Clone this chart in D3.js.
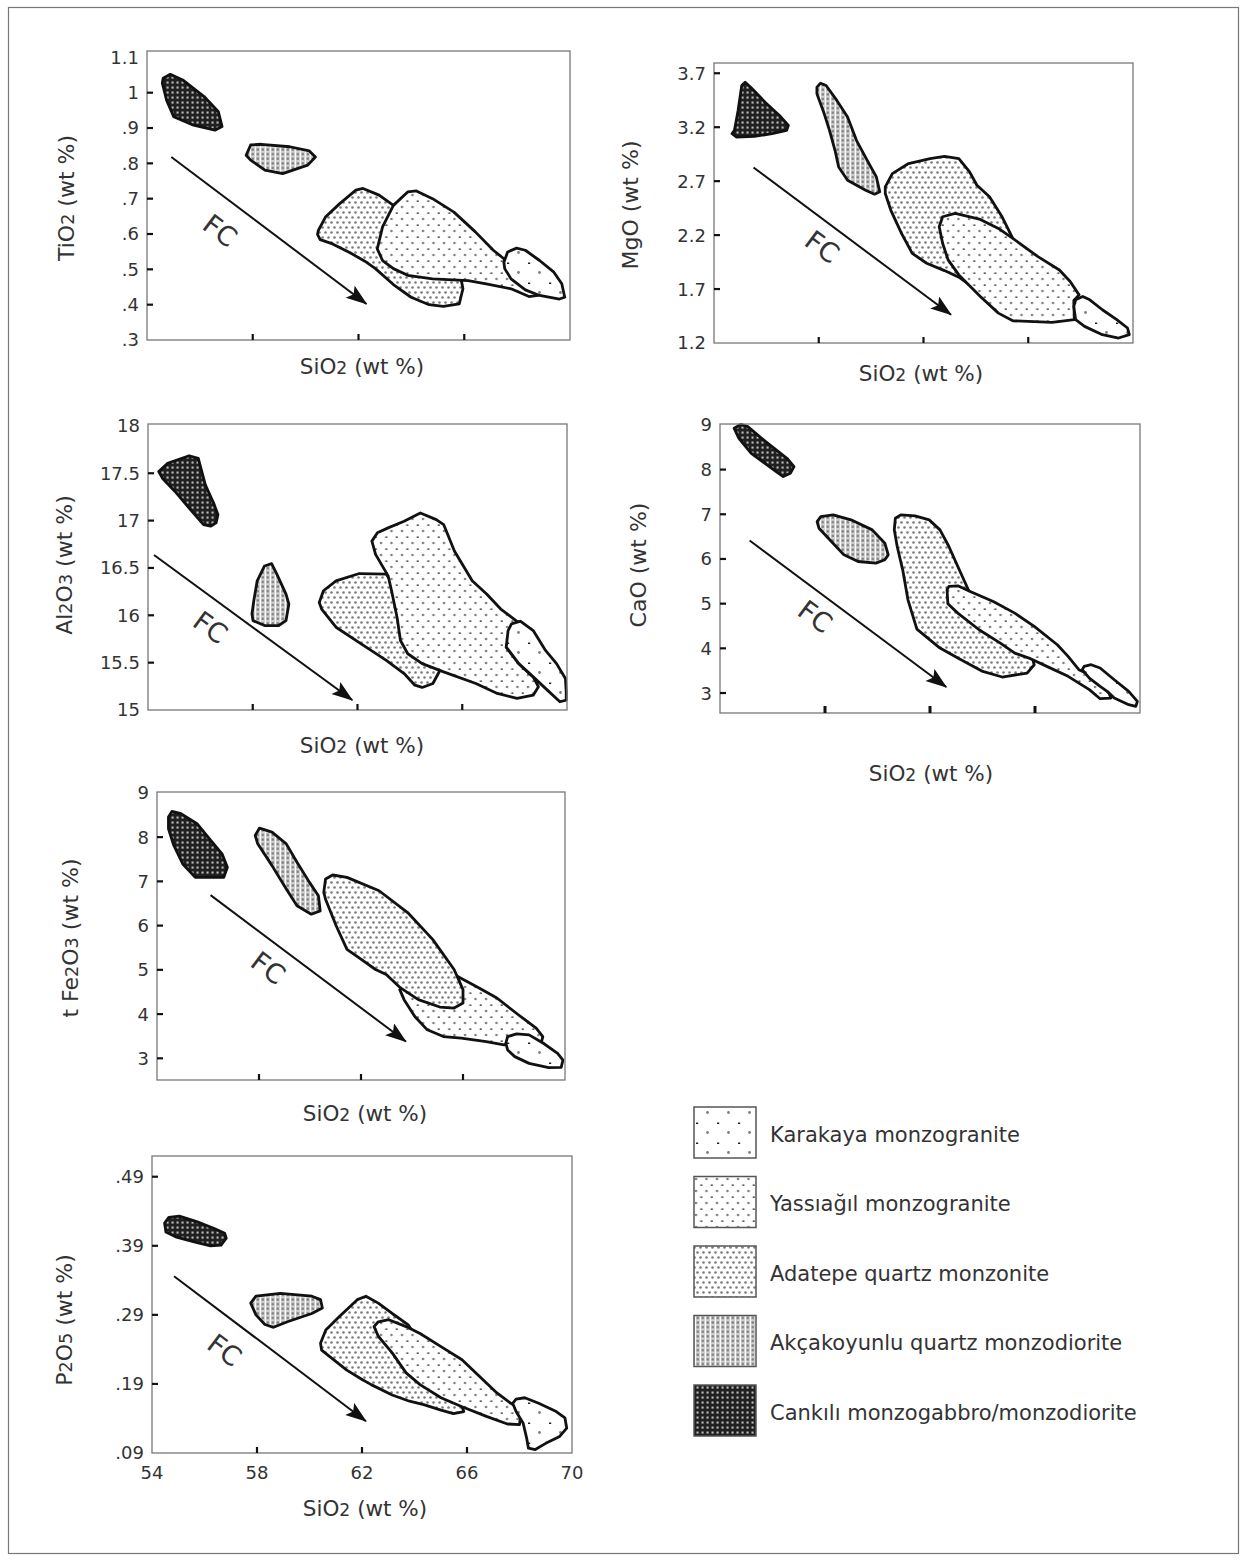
<!DOCTYPE html>
<html><head><meta charset="utf-8">
<script src="https://cdn.jsdelivr.net/npm/d3@7"></script>
<style>
body{margin:0;background:#fff}
text{font-family:"DejaVu Sans",Verdana,sans-serif;fill:#333}
</style>
</head><body>
<svg id="c" width="1246" height="1560"></svg>
<script>
// ---------------- DATA ----------------
const unitNames = ["Karakaya monzogranite","Yassıağıl monzogranite","Adatepe quartz monzonite","Akçakoyunlu quartz monzodiorite","Cankılı monzogabbro/monzodiorite"];
const unitKeys = ["Karakaya","Yassiagil","Adatepe","Akcakoyunlu","Cankili"];

const siO2Ticks = [54,58,62,66,70];
const siO2TickMarks = [58,62,66];

// TiO2
const TiO2_ticks = [1.1,1.0,0.9,0.8,0.7,0.6,0.5,0.4,0.3];
const TiO2_tickLabels = ["1.1","1",".9",".8",".7",".6",".5",".4",".3"];
const TiO2_tickMarks = [1.0,0.9,0.8,0.7,0.6,0.5,0.4];
const TiO2_Cankili = [[54.61,1.041],[54.88,1.052],[55.35,1.036],[56.16,0.989],[56.70,0.946],[56.84,0.904],[56.57,0.894],[55.76,0.908],[55.01,0.932],[54.74,0.979],[54.58,1.027]];
const TiO2_Akcakoyunlu = [[57.75,0.823],[57.92,0.852],[58.32,0.854],[59.40,0.847],[60.14,0.835],[60.37,0.818],[60.08,0.795],[59.13,0.771],[58.46,0.781],[57.92,0.809]];
const TiO2_Adatepe = [[60.48,0.610],[60.75,0.648],[61.29,0.686],[61.90,0.724],[62.17,0.729],[62.78,0.710],[63.32,0.681],[64.26,0.610],[65.48,0.516],[65.88,0.473],[65.95,0.445],[65.81,0.402],[65.21,0.395],[64.67,0.400],[63.99,0.421],[63.32,0.457],[62.64,0.502],[62.24,0.523],[61.70,0.546],[61.02,0.572],[60.55,0.584],[60.45,0.599]];
const TiO2_Yassiagil = [[62.71,0.558],[62.91,0.620],[63.32,0.681],[63.86,0.719],[64.19,0.722],[64.80,0.700],[65.61,0.662],[66.42,0.606],[67.10,0.554],[67.50,0.530],[67.64,0.511],[68.04,0.478],[68.52,0.449],[68.79,0.426],[68.45,0.423],[67.77,0.445],[66.83,0.459],[66.15,0.468],[64.80,0.473],[63.86,0.483],[63.32,0.502],[62.91,0.525]];
const TiO2_Karakaya = [[67.50,0.520],[67.64,0.549],[67.98,0.560],[68.31,0.554],[68.85,0.525],[69.39,0.492],[69.69,0.459],[69.80,0.421],[69.60,0.416],[68.85,0.426],[68.31,0.442],[67.77,0.473],[67.53,0.502]];
const TiO2_FC = [[54.92,0.818],[62.30,0.402]];
const TiO2_FClabel = [56.77,0.610];

// MgO
const MgO_ticks = [3.7,3.2,2.7,2.2,1.7,1.2];
const MgO_tickLabels = ["3.7","3.2","2.7","2.2","1.7","1.2"];
const MgO_tickMarks = [3.7,3.2,2.7,2.2,1.7];
const MgO_Cankili = [[54.78,3.170],[54.92,3.355],[55.06,3.586],[55.19,3.617],[55.40,3.571],[55.95,3.432],[56.50,3.309],[56.84,3.217],[56.77,3.170],[56.22,3.140],[55.54,3.115],[54.85,3.109],[54.69,3.140]];
const MgO_Akcakoyunlu = [[57.93,3.571],[58.07,3.608],[58.28,3.586],[58.69,3.448],[59.10,3.294],[59.44,3.078],[59.85,2.893],[60.20,2.739],[60.33,2.601],[60.13,2.579],[59.79,2.616],[59.10,2.709],[58.76,2.832],[58.62,2.986],[58.41,3.170],[58.21,3.324],[57.93,3.509]];
const MgO_Adatepe = [[60.54,2.647],[60.81,2.770],[61.43,2.863],[62.25,2.909],[62.80,2.930],[63.35,2.909],[63.76,2.786],[64.04,2.662],[64.52,2.555],[65.00,2.370],[65.41,2.170],[64.45,1.939],[63.76,1.739],[63.35,1.810],[62.80,1.871],[62.12,1.939],[61.57,2.031],[61.16,2.216],[60.75,2.432],[60.54,2.585]];
const MgO_Yassiagil = [[62.60,2.278],[62.73,2.370],[63.21,2.401],[64.17,2.345],[64.86,2.262],[65.41,2.170],[66.37,2.000],[67.19,1.877],[67.60,1.770],[67.94,1.646],[67.74,1.594],[67.76,1.416],[66.91,1.391],[65.41,1.406],[64.86,1.477],[64.17,1.631],[63.76,1.730],[63.35,1.831],[62.94,1.970],[62.73,2.124]];
const MgO_Karakaya = [[67.74,1.539],[67.81,1.600],[68.08,1.631],[68.35,1.600],[68.83,1.508],[69.38,1.416],[69.79,1.339],[69.86,1.277],[69.45,1.246],[68.83,1.277],[68.15,1.354],[67.81,1.416]];
const MgO_FC = [[55.51,2.826],[63.05,1.462]];
const MgO_FClabel = [58.14,2.093];

// Al2O3
const Al2O3_ticks = [18,17.5,17,16.5,16,15.5,15];
const Al2O3_tickLabels = ["18","17.5","17","16.5","16","15.5","15"];
const Al2O3_tickMarks = [17.5,17,16.5,16,15.5];
const Al2O3_Cankili = [[54.41,17.517],[54.75,17.605],[55.57,17.685],[55.92,17.657],[56.19,17.378],[56.53,17.168],[56.67,17.063],[56.60,16.976],[56.39,16.941],[56.12,16.958],[55.57,17.133],[55.03,17.308],[54.55,17.448]];
const Al2O3_Akcakoyunlu = [[58.04,16.154],[58.17,16.364],[58.45,16.521],[58.72,16.545],[58.92,16.434],[59.27,16.224],[59.38,16.119],[59.27,15.944],[58.99,15.892],[58.45,15.892],[58.01,15.944],[57.97,16.014]];
const Al2O3_Adatepe = [[60.54,16.136],[60.70,16.259],[61.18,16.364],[62.07,16.441],[63.10,16.434],[64.19,15.979],[65.15,15.420],[64.88,15.280],[64.47,15.238],[64.19,15.262],[63.78,15.385],[63.10,15.524],[62.14,15.699],[61.18,15.874],[60.63,16.066]];
const Al2O3_Yassiagil = [[62.55,16.783],[62.76,16.871],[63.17,16.923],[63.78,16.993],[64.40,17.080],[65.01,17.010],[65.29,16.958],[65.70,16.678],[66.38,16.364],[66.93,16.224],[67.47,16.066],[68.09,15.937],[68.23,15.927],[67.88,15.874],[67.68,15.664],[68.16,15.490],[68.71,15.350],[68.91,15.245],[68.71,15.157],[68.09,15.122],[67.34,15.175],[66.52,15.280],[65.29,15.402],[64.47,15.490],[63.92,15.594],[63.64,15.734],[63.51,15.979],[63.30,16.259],[63.17,16.416],[62.69,16.643]];
const Al2O3_Karakaya = [[67.68,15.664],[67.75,15.839],[67.88,15.909],[68.23,15.937],[68.71,15.839],[69.18,15.629],[69.60,15.490],[69.94,15.332],[69.97,15.192],[69.97,15.105],[69.73,15.087],[69.25,15.210],[68.71,15.350],[68.16,15.490]];
const Al2O3_FC = [[54.23,16.636],[61.80,15.105]];
const Al2O3_FClabel = [56.39,15.874];

// CaO
const CaO_ticks = [9,8,7,6,5,4,3];
const CaO_tickLabels = ["9","8","7","6","5","4","3"];
const CaO_tickMarks = [8,7,6,5,4,3];
const CaO_Cankili = [[54.54,8.924],[54.79,9.01],[55.06,8.961],[55.74,8.626],[56.55,8.253],[56.82,8.067],[56.68,7.918],[56.41,7.843],[56.14,7.955],[55.19,8.365],[54.72,8.700]];
const CaO_Akcakoyunlu = [[57.70,6.837],[57.84,6.949],[58.31,6.987],[58.99,6.875],[59.80,6.651],[60.28,6.353],[60.41,6.092],[60.28,5.981],[59.94,5.906],[59.26,5.943],[58.72,6.092],[58.18,6.428],[57.77,6.688]];
const CaO_Adatepe = [[60.64,6.651],[60.68,6.912],[60.89,6.987],[61.43,6.964],[61.97,6.875],[62.38,6.651],[62.72,6.279],[63.06,5.832],[63.46,5.310],[64.41,4.490],[64.96,4.043],[65.50,3.857],[65.91,3.760],[65.97,3.633],[65.70,3.447],[64.75,3.358],[64.01,3.484],[63.13,3.760],[62.38,4.006],[61.50,4.431],[61.16,5.086],[60.96,5.757],[60.75,6.279]];
const CaO_Yassiagil = [[62.65,5.310],[62.72,5.385],[63.06,5.399],[63.53,5.273],[64.41,5.049],[65.23,4.788],[65.97,4.490],[66.85,4.080],[67.26,3.820],[67.67,3.522],[67.94,3.447],[68.48,3.224],[68.82,3.000],[68.89,2.888],[68.48,2.873],[68.07,3.075],[67.26,3.373],[66.45,3.596],[65.77,3.782],[65.23,3.894],[64.68,4.118],[63.87,4.416],[63.06,4.788],[62.68,4.997]];
const CaO_Karakaya = [[67.80,3.522],[67.87,3.596],[68.14,3.633],[68.48,3.559],[69.02,3.298],[69.57,3.037],[69.90,2.814],[69.84,2.702],[69.57,2.739],[69.02,2.888],[68.75,3.037],[68.48,3.149],[68.07,3.335]];
const CaO_FC = [[55.13,6.413],[62.62,3.134]];
const CaO_FClabel = [57.63,4.714];

// t Fe2O3
const Fe2O3_ticks = [9,8,7,6,5,4,3];
const Fe2O3_tickLabels = ["9","8","7","6","5","4","3"];
const Fe2O3_tickMarks = [8,7,6,5,4,3];
const Fe2O3_Cankili = [[54.45,8.455],[54.59,8.583],[54.94,8.530],[55.57,8.303],[56.06,7.962],[56.55,7.621],[56.76,7.318],[56.62,7.091],[55.50,7.091],[55.01,7.394],[54.66,7.811],[54.45,8.189]];
const Fe2O3_Akcakoyunlu = [[57.85,8.038],[58.02,8.205],[58.51,8.114],[59.07,7.848],[59.49,7.432],[59.98,6.977],[60.33,6.674],[60.40,6.333],[60.05,6.258],[59.49,6.447],[59.07,6.826],[58.51,7.356],[57.95,7.848]];
const Fe2O3_Adatepe = [[60.54,6.750],[60.61,7.053],[60.89,7.144],[61.45,7.091],[62.71,6.788],[63.83,6.295],[64.81,5.689],[65.65,5.008],[66.00,4.553],[66.00,4.250],[65.65,4.136],[65.09,4.159],[64.25,4.326],[63.55,4.591],[62.99,4.894],[62.57,5.008],[62.01,5.235],[61.45,5.462],[61.03,5.992],[60.61,6.598]];
const Fe2O3_Yassiagil = [[63.52,4.553],[64.81,5.008],[65.72,4.871],[66.63,4.591],[67.33,4.364],[68.17,3.985],[68.87,3.682],[69.13,3.492],[69.08,3.379],[68.31,3.432],[67.61,3.303],[66.91,3.379],[65.93,3.455],[65.23,3.492],[64.60,3.644],[64.11,3.947],[63.69,4.326]];
const Fe2O3_Karakaya = [[67.68,3.341],[67.75,3.492],[68.10,3.553],[68.59,3.530],[69.15,3.341],[69.71,3.114],[69.92,2.962],[69.85,2.795],[69.36,2.788],[68.59,2.886],[68.03,3.038],[67.75,3.189]];
const Fe2O3_FC = [[56.10,6.689],[63.76,3.379]];
const Fe2O3_FClabel = [58.37,5.045];

// P2O5
const P2O5_ticks = [0.49,0.39,0.29,0.19,0.09];
const P2O5_tickLabels = [".49",".39",".29",".19",".09"];
const P2O5_tickMarks = [0.49,0.39,0.29,0.19];
const P2O5_Cankili = [[54.48,0.423],[54.64,0.431],[55.04,0.433],[55.70,0.425],[56.37,0.415],[56.77,0.408],[56.83,0.401],[56.63,0.391],[56.23,0.390],[55.57,0.396],[54.90,0.403],[54.53,0.410]];
const P2O5_Akcakoyunlu = [[57.76,0.307],[57.96,0.317],[58.89,0.321],[60.09,0.317],[60.42,0.312],[60.49,0.300],[60.09,0.292],[59.16,0.280],[58.63,0.272],[58.30,0.276],[57.96,0.290]];
const P2O5_Adatepe = [[60.42,0.249],[60.62,0.268],[61.15,0.288],[61.82,0.312],[62.15,0.317],[62.62,0.307],[63.15,0.292],[63.75,0.276],[64.48,0.235],[65.41,0.185],[65.81,0.157],[65.88,0.150],[65.48,0.147],[65.01,0.152],[64.35,0.160],[63.81,0.165],[63.15,0.174],[62.35,0.189],[62.02,0.196],[61.42,0.210],[60.76,0.230],[60.46,0.239]];
const P2O5_Yassiagil = [[62.46,0.273],[62.62,0.280],[63.02,0.283],[63.68,0.273],[64.21,0.263],[65.01,0.244],[65.81,0.225],[66.47,0.201],[67.14,0.177],[67.67,0.162],[68.07,0.153],[68.00,0.131],[67.54,0.132],[66.74,0.143],[65.81,0.157],[65.01,0.170],[64.21,0.189],[63.68,0.206],[63.15,0.235],[62.62,0.259]];
const P2O5_Karakaya = [[67.74,0.162],[67.87,0.168],[68.20,0.170],[68.73,0.162],[69.40,0.150],[69.73,0.141],[69.80,0.126],[69.53,0.114],[69.00,0.104],[68.60,0.095],[68.34,0.097],[68.27,0.112],[68.14,0.133],[67.87,0.150]];
const P2O5_FC = [[54.84,0.346],[62.15,0.136]];
const P2O5_FClabel = [56.77,0.239];

// ---------------- LAYOUT / STYLE ----------------
const panels = [
  {title:[["TiO",0],["2",1],[" (wt %)",0]], yDomain:[0.3,1.118], ticks:TiO2_ticks, tickLabels:TiO2_tickLabels, tickMarks:TiO2_tickMarks,
   fields:{Cankili:TiO2_Cankili,Akcakoyunlu:TiO2_Akcakoyunlu,Adatepe:TiO2_Adatepe,Yassiagil:TiO2_Yassiagil,Karakaya:TiO2_Karakaya},
   order:["Cankili","Akcakoyunlu","Adatepe","Yassiagil","Karakaya"], fc:TiO2_FC, fcLabel:TiO2_FClabel,
   box:{l:147,r:570,t:51,b:340}, xt:{x:362,y:368}, yt:{x:68,y:198}, xLabels:false},
  {title:[["MgO (wt %)",0]], yDomain:[1.2,3.795], ticks:MgO_ticks, tickLabels:MgO_tickLabels, tickMarks:MgO_tickMarks,
   fields:{Cankili:MgO_Cankili,Akcakoyunlu:MgO_Akcakoyunlu,Adatepe:MgO_Adatepe,Yassiagil:MgO_Yassiagil,Karakaya:MgO_Karakaya},
   order:["Cankili","Akcakoyunlu","Adatepe","Yassiagil","Karakaya"], fc:MgO_FC, fcLabel:MgO_FClabel,
   box:{l:714,r:1133,t:63,b:343}, xt:{x:921,y:375}, yt:{x:632,y:205}, xLabels:false},
  {title:[["Al",0],["2",1],["O",0],["3",1],[" (wt %)",0]], yDomain:[15,18.02], ticks:Al2O3_ticks, tickLabels:Al2O3_tickLabels, tickMarks:Al2O3_tickMarks,
   fields:{Cankili:Al2O3_Cankili,Akcakoyunlu:Al2O3_Akcakoyunlu,Adatepe:Al2O3_Adatepe,Yassiagil:Al2O3_Yassiagil,Karakaya:Al2O3_Karakaya},
   order:["Cankili","Akcakoyunlu","Adatepe","Yassiagil","Karakaya"], fc:Al2O3_FC, fcLabel:Al2O3_FClabel,
   box:{l:148,r:567,t:424,b:710}, xt:{x:362,y:747}, yt:{x:66,y:565}, xLabels:false},
  {title:[["CaO (wt %)",0]], yDomain:[2.553,9.02], ticks:CaO_ticks, tickLabels:CaO_tickLabels, tickMarks:CaO_tickMarks,
   fields:{Cankili:CaO_Cankili,Akcakoyunlu:CaO_Akcakoyunlu,Adatepe:CaO_Adatepe,Yassiagil:CaO_Yassiagil,Karakaya:CaO_Karakaya},
   order:["Cankili","Akcakoyunlu","Adatepe","Yassiagil","Karakaya"], fc:CaO_FC, fcLabel:CaO_FClabel,
   box:{l:720,r:1140,t:424,b:713}, xt:{x:931,y:775}, yt:{x:640,y:565}, xLabels:false, thickX:true},
  {title:[["t Fe",0],["2",1],["O",0],["3",1],[" (wt %)",0]], yDomain:[2.51,9.02], ticks:Fe2O3_ticks, tickLabels:Fe2O3_tickLabels, tickMarks:Fe2O3_tickMarks,
   fields:{Cankili:Fe2O3_Cankili,Akcakoyunlu:Fe2O3_Akcakoyunlu,Adatepe:Fe2O3_Adatepe,Yassiagil:Fe2O3_Yassiagil,Karakaya:Fe2O3_Karakaya},
   order:["Cankili","Akcakoyunlu","Yassiagil","Adatepe","Karakaya"], fc:Fe2O3_FC, fcLabel:Fe2O3_FClabel,
   box:{l:157,r:565,t:792,b:1080}, xt:{x:365,y:1115}, yt:{x:72,y:938}, xLabels:false},
  {title:[["P",0],["2",1],["O",0],["5",1],[" (wt %)",0]], yDomain:[0.09,0.520], ticks:P2O5_ticks, tickLabels:P2O5_tickLabels, tickMarks:P2O5_tickMarks,
   fields:{Cankili:P2O5_Cankili,Akcakoyunlu:P2O5_Akcakoyunlu,Adatepe:P2O5_Adatepe,Yassiagil:P2O5_Yassiagil,Karakaya:P2O5_Karakaya},
   order:["Cankili","Akcakoyunlu","Adatepe","Yassiagil","Karakaya"], fc:P2O5_FC, fcLabel:P2O5_FClabel,
   box:{l:152,r:572,t:1156,b:1453}, xt:{x:365,y:1510}, yt:{x:66,y:1320}, xLabels:true}
];

const svg = d3.select("#c");
svg.append("rect").attr("x",8.5).attr("y",7.5).attr("width",1230).attr("height",1546)
  .attr("fill","none").attr("stroke","#777").attr("stroke-width",1.2);

// patterns
const defs = svg.append("defs");
function pat(id,w,h,bg){ const p=defs.append("pattern").attr("id",id).attr("patternUnits","userSpaceOnUse").attr("width",w).attr("height",h);
  p.append("rect").attr("width",w).attr("height",h).attr("fill",bg); return p; }
let p;
p = pat("p-Karakaya",21,20,"#fff");
p.append("rect").attr("x",3).attr("y",2.5).attr("width",2.2).attr("height",1.5).attr("fill","#222");
p.append("circle").attr("cx",14.5).attr("cy",12.5).attr("r",1.4).attr("fill","#808080");
p = pat("p-Yassiagil",10.5,12,"#fff");
p.append("circle").attr("cx",3).attr("cy",3).attr("r",1.3).attr("fill","#808080");
p.append("rect").attr("x",7.3).attr("y",8.5).attr("width",2).attr("height",1.3).attr("fill","#222");
p = pat("p-Adatepe",6,10,"#fff");
p.append("circle").attr("cx",1.5).attr("cy",2.5).attr("r",1.3).attr("fill","#7a7a7a");
p.append("circle").attr("cx",4.5).attr("cy",7.5).attr("r",1.3).attr("fill","#7a7a7a");
p = pat("p-Akcakoyunlu",5,4.6,"#d2d2d2");
p.append("rect").attr("x",0).attr("y",0).attr("width",0.9).attr("height",4.6).attr("fill","#fff");
p.append("rect").attr("x",1.6).attr("y",1.2).attr("width",2.3).attr("height",2.3).attr("fill","#7d7d7d");
p = pat("p-Cankili",5,5,"#202020");
p.append("rect").attr("x",1.5).attr("y",1.5).attr("width",2.1).attr("height",2.1).attr("fill","#bcbcbc");

// arrow marker
defs.append("marker").attr("id","arrow").attr("markerUnits","userSpaceOnUse")
  .attr("viewBox","0 0 20 14").attr("refX",19).attr("refY",7).attr("markerWidth",22).attr("markerHeight",15).attr("orient","auto")
  .append("path").attr("d","M0,0 L20,7 L0,14 L4,7 Z").attr("fill","#111");

function addTitle(g, parts, size){
  parts.forEach(([t,sub])=>{ g.append("tspan").text(t).attr("font-size", sub? size*0.8 : size); });
}

panels.forEach(P=>{
  const b=P.box;
  const x=d3.scaleLinear().domain([54,70]).range([b.l,b.r]);
  const y=d3.scaleLinear().domain(P.yDomain).range([b.b,b.t]);
  const g=svg.append("g");
  const line=d3.line().x(d=>x(d[0])).y(d=>y(d[1])).curve(d3.curveLinearClosed);
  P.order.forEach(k=>{
    g.append("path").datum(P.fields[k]).attr("d",line)
      .attr("fill",`url(#p-${k})`).attr("stroke","#111").attr("stroke-width",2.8).attr("stroke-linejoin","round");
  });
  g.append("rect").attr("x",b.l).attr("y",b.t).attr("width",b.r-b.l).attr("height",b.b-b.t)
    .attr("fill","none").attr("stroke","#777").attr("stroke-width",1.3);
  g.selectAll(".ytm").data(P.tickMarks).enter().append("line")
    .attr("x1",b.l).attr("x2",b.l+6).attr("y1",d=>y(d)).attr("y2",d=>y(d)).attr("stroke","#111").attr("stroke-width",2.2);
  g.selectAll(".xtm").data(siO2TickMarks).enter().append("line")
    .attr("x1",d=>x(d)).attr("x2",d=>x(d)).attr("y1",b.b).attr("y2",b.b-(P.thickX?7:6)).attr("stroke","#111").attr("stroke-width",P.thickX?3:2.2);
  g.selectAll(".ytl").data(P.ticks).enter().append("text")
    .attr("x",b.l-8).attr("y",d=>y(d)).attr("dy","0.36em").attr("text-anchor","end").attr("font-size",18)
    .text((d,i)=>P.tickLabels[i]);
  if(P.xLabels){
    g.selectAll(".xtl").data(siO2Ticks).enter().append("text")
      .attr("x",d=>x(d)).attr("y",b.b+26).attr("text-anchor","middle").attr("font-size",18).text(d=>d);
  }
  const xt=g.append("text").attr("x",P.xt.x).attr("y",P.xt.y).attr("dy","0.36em").attr("text-anchor","middle");
  addTitle(xt,[["SiO",0],["2",1],[" (wt %)",0]],21.5);
  const yt=g.append("text").attr("transform",`translate(${P.yt.x},${P.yt.y}) rotate(-90)`).attr("dy","0.36em").attr("text-anchor","middle");
  addTitle(yt,P.title,22);
  const [a0,a1]=P.fc;
  g.append("line").attr("x1",x(a0[0])).attr("y1",y(a0[1])).attr("x2",x(a1[0])).attr("y2",y(a1[1]))
    .attr("stroke","#111").attr("stroke-width",2).attr("marker-end","url(#arrow)");
  const ang=Math.atan2(y(a1[1])-y(a0[1]), x(a1[0])-x(a0[0]))*180/Math.PI;
  g.append("text").attr("transform",`translate(${x(P.fcLabel[0])},${y(P.fcLabel[1])}) rotate(${ang})`)
    .attr("text-anchor","middle").attr("dy","0.36em").attr("font-size",27).attr("fill","#222").text("FC");
});

// legend
const leg=svg.append("g");
unitKeys.forEach((k,i)=>{
  const top=1107+i*69.5;
  leg.append("rect").attr("x",694).attr("y",top).attr("width",62).attr("height",51)
    .attr("fill",`url(#p-${k})`).attr("stroke","#555").attr("stroke-width",1.5);
  leg.append("text").attr("x",770).attr("y",top+27).attr("dy","0.36em").attr("font-size",21).text(unitNames[i]);
});
</script>
</body></html>
